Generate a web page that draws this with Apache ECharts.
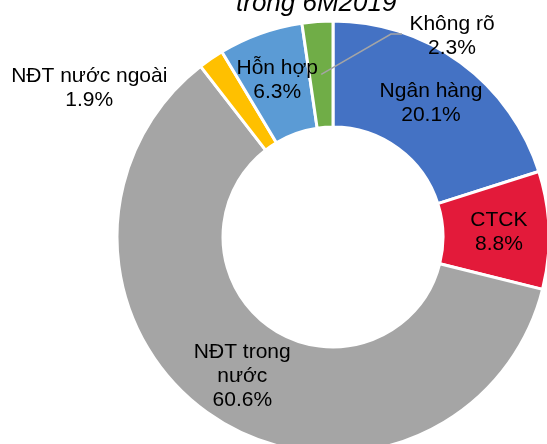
<!DOCTYPE html>
<html>
<head>
<meta charset="utf-8">
<script src="https://cdn.jsdelivr.net/npm/echarts@6/dist/echarts.min.js"></script>
<style>
  html, body { margin: 0; padding: 0; background: #fff; }
  #chart { width: 547px; height: 444px; }
</style>
</head>
<body>
<div id="chart"></div>
<script>
// investor groups, clockwise from 12 o'clock
const categories = ['Ngân hàng', 'CTCK', 'NĐT trong\nnước', 'NĐT nước ngoài', 'Hỗn hợp', 'Không rõ'];
const shares = [20.1, 8.8, 60.6, 1.9, 6.3, 2.3];
const colors = ['#4472C4', '#E31A3A', '#A5A5A5', '#FFC000', '#5B9BD5', '#70AD47'];

const cx = 333, cy = 237, rIn = 110, rOut = 216;
const myChart = echarts.init(document.getElementById('chart'));

const data = categories.map((name, i) => {
  const item = { name: name, value: shares[i], itemStyle: { color: colors[i] } };
  if (i === 3) {
    // small slice, label sits outside on the left
    item.label = { position: 'inside', offset: [-150, -12] };
  }
  return item;
});

// leader line for the last slice (Không rõ): from mid of slice to its label
const total = shares.reduce((a, b) => a + b, 0);
const before = shares.slice(0, 5).reduce((a, b) => a + b, 0);
const midAng = (before + shares[5] / 2) / total * 2 * Math.PI;
const rMid = (rIn + rOut) / 2;
const p0 = [cx + rMid * Math.sin(midAng), cy - rMid * Math.cos(midAng)];

const option = {
  title: {
    text: 'trong 6M2019',
    left: 236,
    top: -9,
    padding: 0,
    textStyle: {
      fontFamily: 'Liberation Sans, Arial, sans-serif',
      fontStyle: 'italic',
      fontWeight: 'normal',
      fontSize: 26,
      color: '#000'
    }
  },
  graphic: [
    {
      type: 'polyline',
      z: 100,
      shape: { points: [p0, [391, 34], [402, 34]] },
      style: { stroke: '#A5A5A5', lineWidth: 1.5, fill: null }
    }
  ],
  series: [
    {
      type: 'pie',
      center: [cx, cy],
      radius: [rIn, rOut],
      startAngle: 90,
      clockwise: true,
      avoidLabelOverlap: false,
      itemStyle: { borderColor: '#fff', borderWidth: 3 },
      label: {
        show: true,
        position: 'inside',
        formatter: p => p.name + '\n' + p.value.toFixed(1) + '%',
        fontFamily: 'Liberation Sans, Arial, sans-serif',
        fontSize: 21,
        lineHeight: 24,
        color: '#000',
        align: 'center'
      },
      labelLine: { show: false },
      labelLayout: function (params) {
        if (params.dataIndex === 5) {
          return { x: 452, y: 36, align: 'center', verticalAlign: 'middle' };
        }
      },
      animation: false,
      data: data
    }
  ]
};

option && myChart.setOption(option);
</script>
</body>
</html>
